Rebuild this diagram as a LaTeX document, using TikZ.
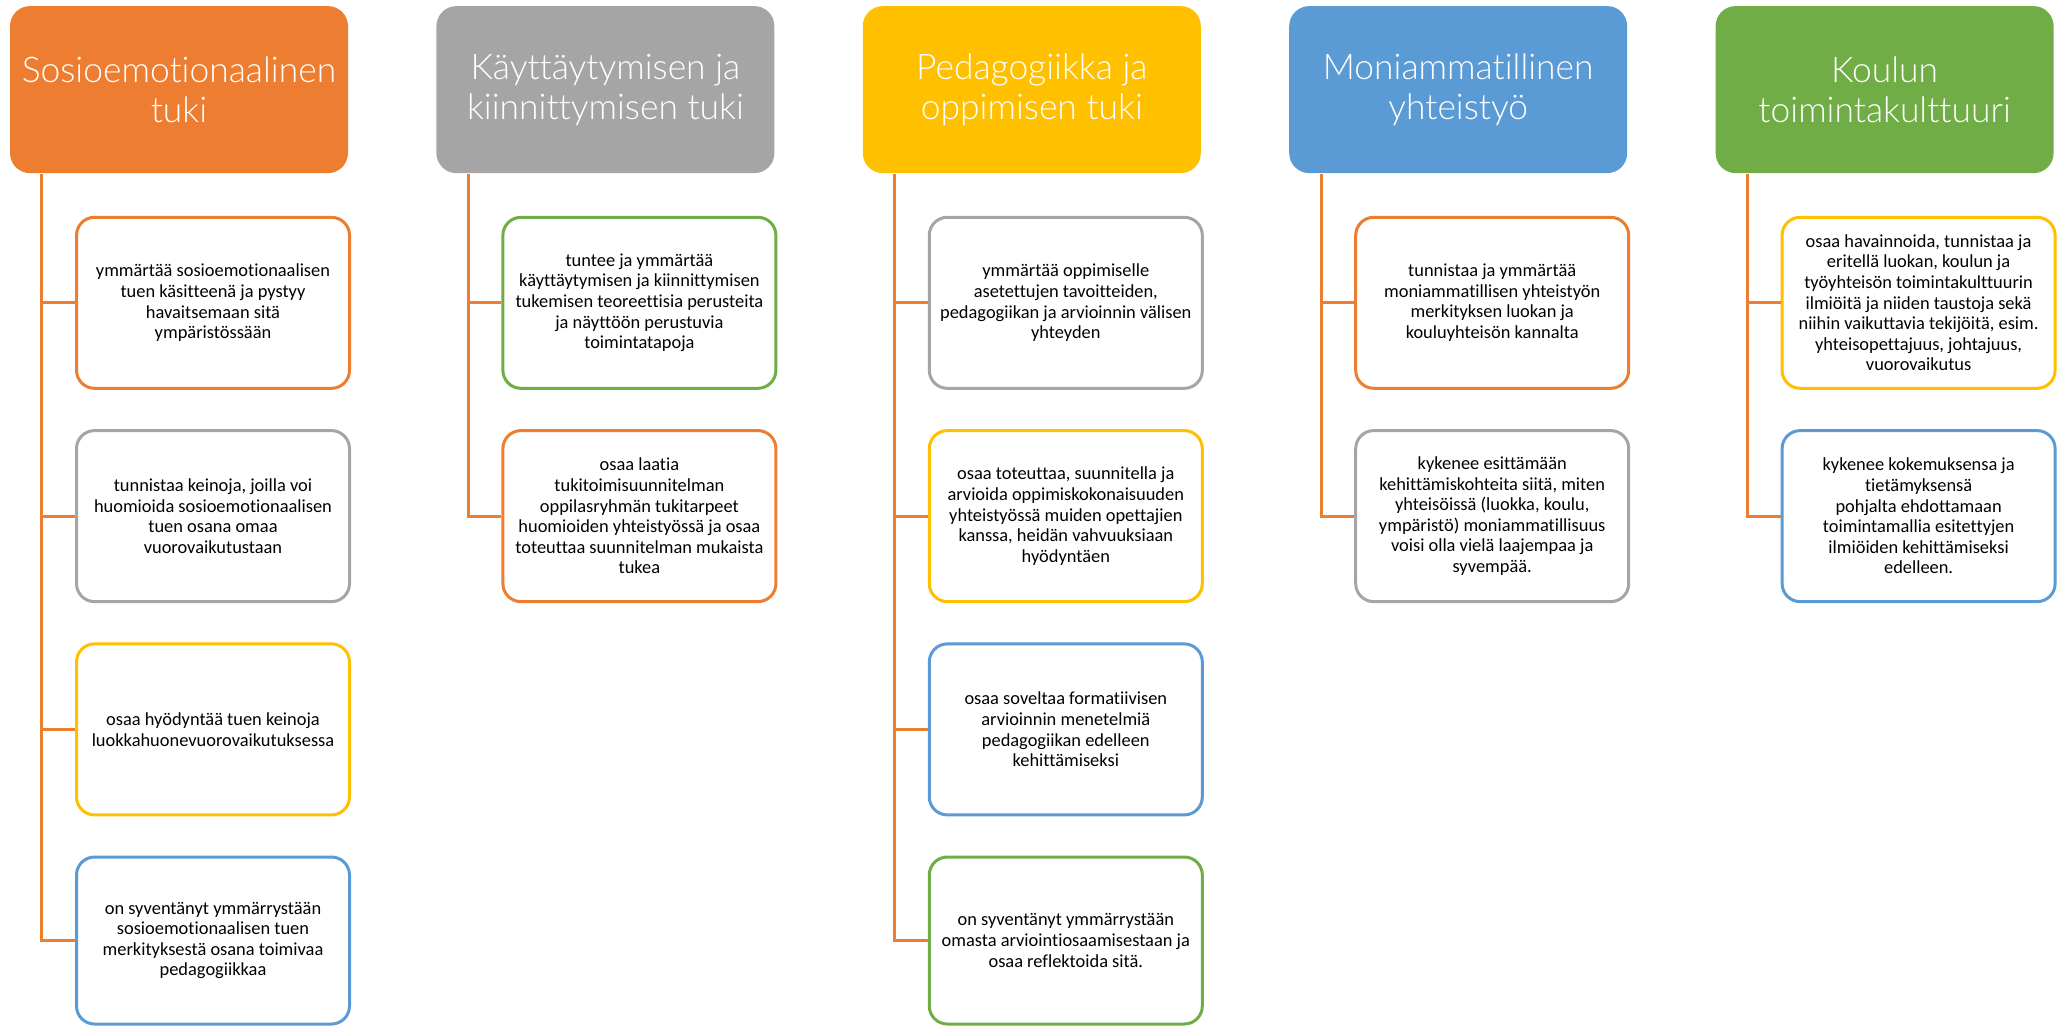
\documentclass[tikz,border=0pt]{standalone}
\usepackage{fontspec}
\setmainfont{Carlito}[Ligatures=NoCommon]
\newfontfamily\hdrfam{Lato Light}[Ligatures=NoCommon]
\definecolor{corange}{HTML}{ED7D31}
\definecolor{cgray}{HTML}{A5A5A5}
\definecolor{cgold}{HTML}{FFC000}
\definecolor{cblue}{HTML}{5B9BD5}
\definecolor{cgreen}{HTML}{70AD47}
\newcommand\hdrfont{\hdrfam\fontsize{17.7}{19.9}\selectfont}
\newcommand\itemfont{\fontsize{9.2}{10.3}\selectfont}
\tikzset{
  hdr/.style={fill=#1, rounded corners=10pt, minimum width=169pt, minimum height=83.5pt,
    text=white, align=center, font=\hdrfont, inner sep=0pt},
  itembox/.style={draw=#1, line width=1.5pt, rounded corners=9pt, fill=white,
    minimum width=136.5pt, minimum height=85.5pt, align=center, font=\itemfont, inner sep=0pt},
  lastbox/.style={itembox=#1, minimum height=83.5pt},
  conn/.style={draw=corange, line width=1.5pt},
}
\begin{document}
\begin{tikzpicture}[x=0.5pt, y=-0.5pt]
\fill[white] (0,0) rectangle (2057,1025);
\useasboundingbox (0,0) rectangle (2057,1025);

% Headers
\node[hdr=corange] (h1) at (179,89.6) {Sosioemotionaalinen\\tuki};
\node[hdr=cgray] (h2) at (605.4,89.6) {Käyttäytymisen ja\\kiinnittymisen tuki};
\node[hdr=cgold] (h3) at (1031.8,89.6) {Pedagogiikka ja\\oppimisen tuki};
\node[hdr=cblue] (h4) at (1458.2,89.6) {Moniammatillinen\\yhteistyö};
\node[hdr=cgreen] (h5) at (1884.6,89.6) {Koulun\\toimintakulttuuri};

% Column 1
\node[itembox=corange] (b1a) at (213,302.8) {ymmärtää sosioemotionaalisen\\tuen käsitteenä ja pystyy\\havaitsemaan sitä\\ympäristössään};
\node[itembox=cgray] (b1b) at (213,516.1) {tunnistaa keinoja, joilla voi\\huomioida sosioemotionaalisen\\tuen osana omaa\\vuorovaikutustaan};
\node[itembox=cgold] (b1c) at (213,729.4) {osaa hyödyntää tuen keinoja\\luokkahuonevuorovaikutuksessa};
\node[lastbox=cblue] (b1d) at (213,940.5) {on syventänyt ymmärrystään\\sosioemotionaalisen tuen\\merkityksestä osana toimivaa\\pedagogiikkaa};

% Column 2
\node[itembox=cgreen] (b2a) at (639.4,302.8) {tuntee ja ymmärtää\\käyttäytymisen ja kiinnittymisen\\tukemisen teoreettisia perusteita\\ja näyttöön perustuvia\\toimintatapoja};
\node[itembox=corange] (b2b) at (639.4,516.1) {osaa laatia\\tukitoimisuunnitelman\\oppilasryhmän tukitarpeet\\huomioiden yhteistyössä ja osaa\\toteuttaa suunnitelman mukaista\\tukea};

% Column 3
\node[itembox=cgray] (b3a) at (1065.8,302.8) {ymmärtää oppimiselle\\asetettujen tavoitteiden,\\pedagogiikan ja arvioinnin välisen\\yhteyden};
\node[itembox=cgold] (b3b) at (1065.8,516.1) {osaa toteuttaa, suunnitella ja\\arvioida oppimiskokonaisuuden\\yhteistyössä muiden opettajien\\kanssa, heidän vahvuuksiaan\\hyödyntäen};
\node[itembox=cblue] (b3c) at (1065.8,729.4) {osaa soveltaa formatiivisen\\arvioinnin menetelmiä\\pedagogiikan edelleen\\kehittämiseksi};
\node[lastbox=cgreen] (b3d) at (1065.8,940.5) {on syventänyt ymmärrystään\\omasta arviointiosaamisestaan ja\\osaa reflektoida sitä.};

% Column 4
\node[itembox=corange] (b4a) at (1492.2,302.8) {tunnistaa ja ymmärtää\\moniammatillisen yhteistyön\\merkityksen luokan ja\\kouluyhteisön kannalta};
\node[itembox=cgray] (b4b) at (1492.2,516.1) {kykenee esittämään\\kehittämiskohteita siitä, miten\\yhteisöissä (luokka, koulu,\\ympäristö) moniammatillisuus\\voisi olla vielä laajempaa ja\\syvempää.};

% Column 5
\node[itembox=cgold] (b5a) at (1918.6,302.8) {osaa havainnoida, tunnistaa ja\\eritellä luokan, koulun ja\\työyhteisön toimintakulttuurin\\ilmiöitä ja niiden taustoja sekä\\niihin vaikuttavia tekijöitä, esim.\\yhteisopettajuus, johtajuus,\\vuorovaikutus};
\node[itembox=cblue] (b5b) at (1918.6,516.1) {kykenee kokemuksensa ja\\tietämyksensä\\pohjalta ehdottamaan\\toimintamallia esitettyjen\\ilmiöiden kehittämiseksi\\edelleen.};

% Trunk coordinates
\coordinate (v1) at ([xshift=16.15pt]h1.south west);
\coordinate (v2) at ([xshift=16.15pt]h2.south west);
\coordinate (v3) at ([xshift=16.15pt]h3.south west);
\coordinate (v4) at ([xshift=16.15pt]h4.south west);
\coordinate (v5) at ([xshift=16.15pt]h5.south west);

% Connectors
\draw[conn] (v1) |- (b1d.west);
\draw[conn] (b1a.west) -- (b1a.west -| v1);
\draw[conn] (b1b.west) -- (b1b.west -| v1);
\draw[conn] (b1c.west) -- (b1c.west -| v1);

\draw[conn] (v2) |- (b2b.west);
\draw[conn] (b2a.west) -- (b2a.west -| v2);

\draw[conn] (v3) |- (b3d.west);
\draw[conn] (b3a.west) -- (b3a.west -| v3);
\draw[conn] (b3b.west) -- (b3b.west -| v3);
\draw[conn] (b3c.west) -- (b3c.west -| v3);

\draw[conn] (v4) |- (b4b.west);
\draw[conn] (b4a.west) -- (b4a.west -| v4);

\draw[conn] (v5) |- (b5b.west);
\draw[conn] (b5a.west) -- (b5a.west -| v5);
\end{tikzpicture}
\end{document}
